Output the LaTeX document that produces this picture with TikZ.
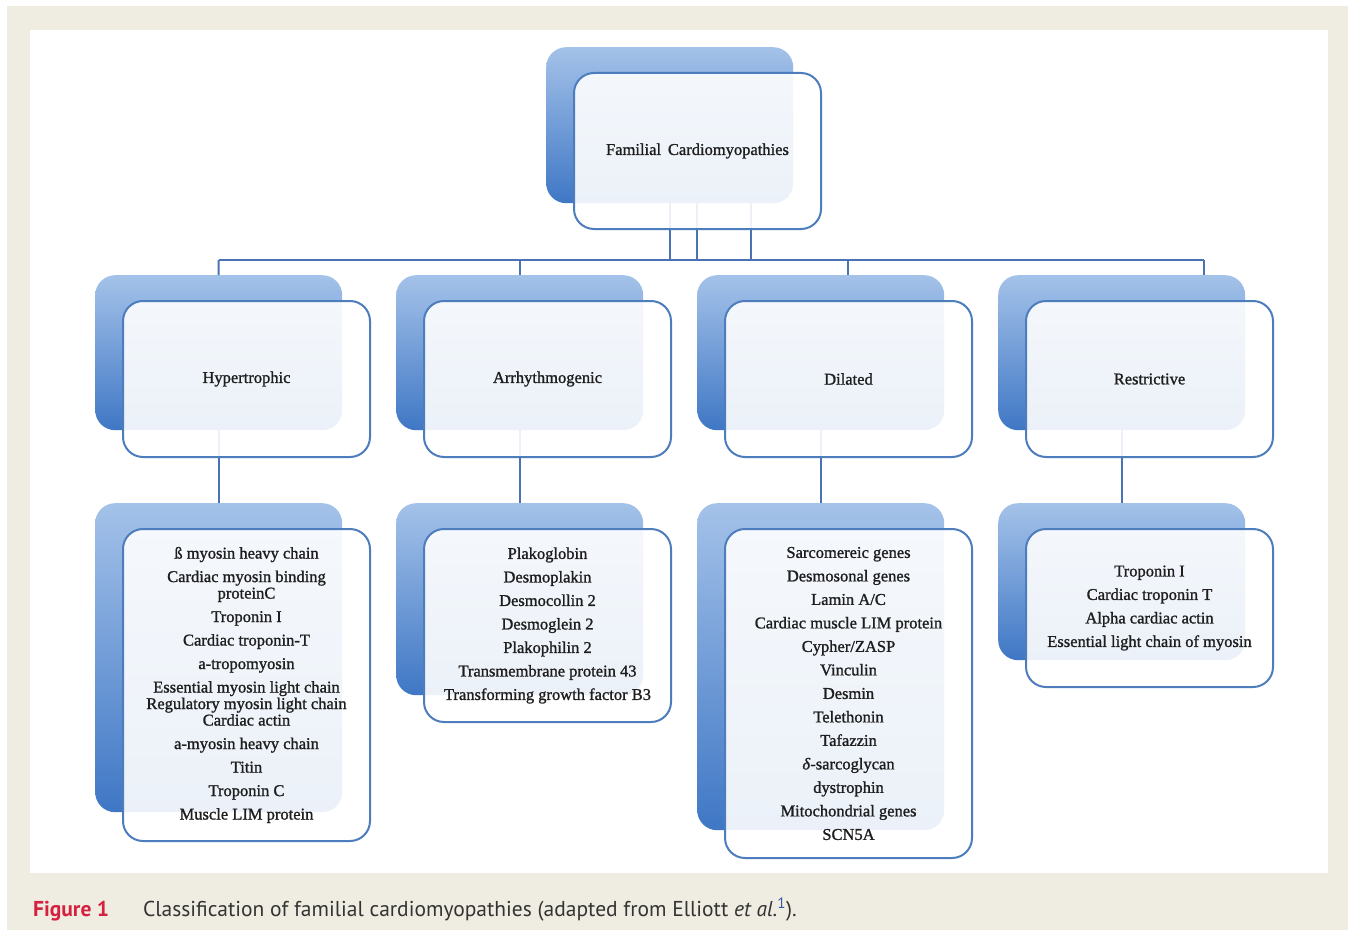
\documentclass[tikz,border=0pt]{standalone}
\usepackage{fontspec}
\setmainfont{Liberation Serif}
\newfontfamily\boxfont{Liberation Serif}[FakeBold=1.2]
\newfontfamily\capfont{PT Sans}
\usetikzlibrary{calc}
\definecolor{beige}{HTML}{EFECE1}
\definecolor{bktop}{HTML}{A4C2E9}
\definecolor{bkbot}{HTML}{3F77C5}
\definecolor{edgecol}{HTML}{4E7DBE}
\definecolor{conncol}{HTML}{4A72B2}
\definecolor{txt}{HTML}{1E1E1E}
\definecolor{figred}{HTML}{D6203F}
\definecolor{refblue}{HTML}{3355AA}
\definecolor{captxt}{HTML}{333333}
\begin{document}
\begin{tikzpicture}[x=1pt,y=-1pt,
  backbox/.style={rounded corners=20pt, top color=bktop, bottom color=bkbot, minimum width=247pt, anchor=north west, inner sep=0pt},
  frontbox/.style={rounded corners=20pt, draw=edgecol, line width=2pt, fill=white, fill opacity=0.9, text opacity=1, minimum width=247pt, anchor=north west, text=txt, align=center, inner sep=0pt, font=\boxfont\fontsize{16.5}{16.5}\selectfont},
  conn/.style={draw=conncol, line width=2pt}]
\useasboundingbox (0,0) rectangle (1354,936);
\fill[white] (0,0) rectangle (1354,936);
\fill[beige] (7,6) rectangle (1348,930);
\fill[white] (30,30) rectangle (1328,873);
% back boxes
\node[backbox, minimum height=156pt] (topb) at (546,47) {};
\node[backbox, minimum height=155pt] (hyb) at (95,275) {};
\node[backbox, minimum height=155pt] (arb) at (396,275) {};
\node[backbox, minimum height=155pt] (dib) at (697,275) {};
\node[backbox, minimum height=155pt] (reb) at (998,275) {};
\node[backbox, minimum height=309pt] (hlb) at (95,503) {};
\node[backbox, minimum height=192pt] (alb) at (396,503) {};
\node[backbox, minimum height=327pt] (dlb) at (697,503) {};
\node[backbox, minimum height=157pt] (rlb) at (998,503) {};
% connectors
\coordinate (busL) at (218.5,260);
\coordinate (busR) at (1204,260);
\draw[conn] (busL) -- (busR);
\draw[conn] (topb.south) -- (topb.south |- busL);
\draw[conn] ($(topb.south)+(27,0)$) -- ($(topb.south |- busL)+(27,0)$);
\draw[conn] ($(topb.south)+(81.5,0)$) -- ($(topb.south |- busL)+(81.5,0)$);
\draw[conn] (busL) -- (hyb.north);
\draw[conn] (arb.north |- busL) -- (arb.north);
\draw[conn] ($(dib.north |- busL)+(27,0)$) -- ($(dib.north)+(27,0)$);
\draw[conn] (busR) -- (busR |- reb.north);
\draw[conn] (hyb.south) -- (hlb.north);
\draw[conn] (arb.south) -- (alb.north);
\draw[conn] (dib.south) -- (dlb.north);
\draw[conn] (reb.south) -- (rlb.north);
% front boxes
\node[frontbox, minimum height=156pt] (topf) at (573,72) {Familial\, Cardiomyopathies};
\node[frontbox, minimum height=156pt] (hyf) at (122,300) {Hypertrophic};
\node[frontbox, minimum height=156pt] (arf) at (423,300) {Arrhythmogenic};
\node[frontbox, minimum height=156pt] (dif) at (724,300) {Dilated};
\node[frontbox, minimum height=156pt] (ref) at (1025,300) {Restrictive};
\node[frontbox, minimum height=312pt] (hlf) at (122,528) {ß myosin heavy chain\\[7pt]
Cardiac myosin binding\\proteinC\\[7pt]
Troponin I\\[7pt]
Cardiac troponin-T\\[7pt]
a-tropomyosin\\[7pt]
Essential myosin light chain\\Regulatory myosin light chain\\Cardiac actin\\[7pt]
a-myosin heavy chain\\[7pt]
Titin\\[7pt]
Troponin C\\[7pt]
Muscle LIM protein};
\node[frontbox, minimum height=193pt] (alf) at (423,528) {Plakoglobin\\[7pt]
Desmoplakin\\[7pt]
Desmocollin 2\\[7pt]
Desmoglein 2\\[7pt]
Plakophilin 2\\[7pt]
Transmembrane protein 43\\[7pt]
Transforming growth factor B3};
\node[frontbox, minimum height=329pt] (dlf) at (724,528) {Sarcomereic genes\\[7pt]
Desmosonal genes\\[7pt]
Lamin A/C\\[7pt]
Cardiac muscle LIM protein\\[7pt]
Cypher/ZASP\\[7pt]
Vinculin\\[7pt]
Desmin\\[7pt]
Telethonin\\[7pt]
Tafazzin\\[7pt]
\textit{δ}-sarcoglycan\\[7pt]
dystrophin\\[7pt]
Mitochondrial genes\\[7pt]
SCN5A};
\node[frontbox, minimum height=158pt] (rlf) at (1025,528) {Troponin I\\[7pt]
Cardiac troponin T\\[7pt]
Alpha cardiac actin\\[7pt]
Essential light chain of myosin};
% caption
\node[anchor=base west, inner sep=0pt, text=captxt, font=\capfont\fontsize{21.5}{21.5}\selectfont] (cap) at (33,916) {\textcolor{figred}{\bfseries Figure 1}\hspace{34pt}Classification of familial cardiomyopathies (adapted from Elliott \textit{et al.}\textsuperscript{\textcolor{refblue}{1}}).};
\end{tikzpicture}
\end{document}
